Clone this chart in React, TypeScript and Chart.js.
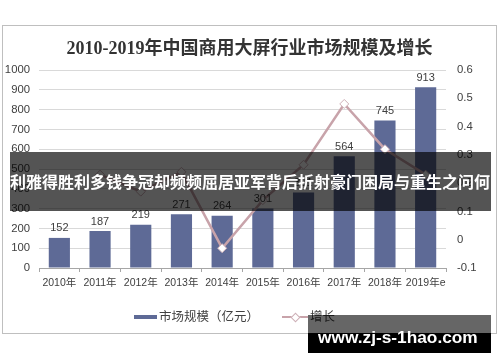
import React, { useEffect, useRef } from "react";
import { Chart, registerables } from "chart.js";

Chart.register(...registerables);

const categories = ["2010年", "2011年", "2012年", "2013年", "2014年", "2015年", "2016年", "2017年", "2018年", "2019年e"];
const marketSize = [152, 187, 219, 271, 264, 301, 381, 564, 745, 913];
const growth = [null, 0.23, 0.17, 0.24, -0.03, 0.14, 0.265, 0.48, 0.32, 0.23];
const leftTicks = { min: 0, max: 1000, step: 100 };
const rightTicks = { min: -0.1, max: 0.6, step: 0.1 };

const titleText = "2010-2019年中国商用大屏行业市场规模及增长";
const barLabel = "市场规模（亿元）";
const lineLabel = "增长";
const bannerText = "利雅得胜利多钱争冠却频频屈居亚军背后折射豪门困局与重生之问何";
const watermarkText = "www.zj-s-1hao.com";

const BAR_COLOR = "rgb(94,106,150)";
const LINE_COLOR = "rgb(200,163,170)";
const SANS = "'Liberation Sans', 'Noto Sans CJK SC', sans-serif";

const barLabelPlugin = {
  id: "barLabels",
  afterDatasetsDraw(chart: any) {
    const ctx = chart.ctx;
    const meta = chart.getDatasetMeta(0);
    ctx.save();
    ctx.font = `11px ${SANS}`;
    ctx.fillStyle = "#404040";
    ctx.textAlign = "center";
    ctx.textBaseline = "bottom";
    meta.data.forEach((el: any, i: number) => {
      ctx.fillText(String(marketSize[i]), el.x, el.y - 4);
    });
    ctx.restore();
  },
};

function ChartCanvas() {
  const ref = useRef<HTMLCanvasElement | null>(null);
  useEffect(() => {
    if (!ref.current) return;
    const chart = new Chart(ref.current, {
      type: "bar",
      data: {
        labels: categories,
        datasets: [
          {
            type: "bar",
            label: barLabel,
            data: marketSize,
            backgroundColor: BAR_COLOR,
            yAxisID: "y",
            order: 1,
            categoryPercentage: 1,
            barPercentage: 0.52,
          } as any,
          {
            type: "line",
            label: lineLabel,
            data: growth,
            yAxisID: "y1",
            order: 0,
            borderColor: LINE_COLOR,
            borderWidth: 2.5,
            pointStyle: "rectRot",
            pointRadius: 4.5,
            pointBackgroundColor: "#ffffff",
            pointBorderColor: "rgb(205,175,182)",
            pointBorderWidth: 1,
            spanGaps: false,
            tension: 0,
          } as any,
        ],
      },
      options: {
        animation: false,
        responsive: false,
        maintainAspectRatio: false,
        layout: { padding: { left: 0, right: 0, top: 70, bottom: 64 } },
        plugins: {
          legend: { display: false },
          title: { display: false },
          tooltip: { enabled: false },
        },
        scales: {
          x: {
            type: "category",
            offset: true,
            grid: {
              offset: true,
              drawOnChartArea: false,
              drawTicks: true,
              tickLength: 4,
              color: "#a6a6a6",
            },
            border: { display: true, color: "#a6a6a6" },
            ticks: {
              padding: 5,
              color: "#404040",
              font: { family: SANS, size: 10.5 },
              maxRotation: 0,
              autoSkip: false,
            },
            afterFit: (s: any) => {
              s.height = 30;
            },
          },
          y: {
            position: "left",
            min: leftTicks.min,
            max: leftTicks.max,
            ticks: {
              stepSize: leftTicks.step,
              padding: 9,
              color: "#404040",
              font: { family: SANS, size: 11.3 },
              callback: (v: any) => String(Math.round(Number(v))),
            },
            grid: { color: "#d9d9d9", drawTicks: false },
            border: { display: false },
            afterFit: (s: any) => {
              s.width = 39;
            },
          },
          y1: {
            position: "right",
            min: rightTicks.min,
            max: rightTicks.max,
            ticks: {
              stepSize: rightTicks.step,
              padding: 11,
              color: "#404040",
              font: { family: SANS, size: 11.3 },
              callback: (v: any) => {
                const n = Number(v);
                if (Math.abs(n) < 1e-9) return "0";
                return String(parseFloat(n.toFixed(1)));
              },
            },
            grid: { drawOnChartArea: false, drawTicks: false },
            border: { display: false },
            afterFit: (s: any) => {
              s.width = 54;
            },
          },
        },
      } as any,
      plugins: [barLabelPlugin],
    });
    return () => chart.destroy();
  }, []);
  return (
    <canvas
      ref={ref}
      width={500}
      height={362}
      style={{ position: "absolute", left: 0, top: 0, width: 500, height: 362 }}
    />
  );
}

export default function App() {
  return (
    <div
      style={{
        position: "absolute",
        left: 0,
        top: 0,
        width: 500,
        height: 362,
        overflow: "hidden",
        background: "#ffffff",
      }}
    >
      <div
        style={{
          position: "absolute",
          left: 2,
          top: 25,
          width: 495,
          height: 309,
          border: "1px solid #bfbfbf",
          boxSizing: "border-box",
        }}
      />
      <ChartCanvas />
      <div
        style={{
          position: "absolute",
          left: 2,
          width: 495,
          top: 36,
          height: 24,
          lineHeight: "24px",
          textAlign: "center",
          fontFamily: "'Liberation Serif', 'Noto Sans CJK SC', serif",
          fontWeight: "bold",
          fontSize: 18,
          color: "#333333",
          whiteSpace: "nowrap",
        }}
      >
        {titleText}
      </div>
      {/* legend */}
      <div style={{ position: "absolute", left: 134, top: 314.5, width: 23, height: 4, background: BAR_COLOR }} />
      <div
        style={{
          position: "absolute",
          left: 159,
          top: 307,
          height: 20,
          lineHeight: "20px",
          fontFamily: SANS,
          fontSize: 12.5,
          color: "#404040",
          whiteSpace: "nowrap",
        }}
      >
        {barLabel}
      </div>
      <div style={{ position: "absolute", left: 282, top: 315.5, width: 26, height: 2.5, background: LINE_COLOR }} />
      <div
        style={{
          position: "absolute",
          left: 292,
          top: 313.5,
          width: 5,
          height: 5,
          background: "#ffffff",
          border: "1px solid rgb(205,175,182)",
          transform: "rotate(45deg)",
        }}
      />
      <div
        style={{
          position: "absolute",
          left: 310,
          top: 307,
          height: 20,
          lineHeight: "20px",
          fontFamily: SANS,
          fontSize: 12.5,
          color: "#404040",
          whiteSpace: "nowrap",
        }}
      >
        {lineLabel}
      </div>
      {/* banner overlay */}
      <div
        style={{
          position: "absolute",
          left: 10,
          top: 152,
          width: 481,
          height: 59,
          background: "rgba(0,0,0,0.67)",
        }}
      />
      <div
        style={{
          position: "absolute",
          left: 10,
          top: 152,
          width: 481,
          height: 59,
          lineHeight: "59px",
          fontFamily: "'Noto Sans CJK SC', sans-serif",
          fontWeight: "bold",
          fontSize: 16,
          color: "#ffffff",
          whiteSpace: "nowrap",
        }}
      >
        {bannerText}
      </div>
      {/* watermark */}
      <div style={{ position: "absolute", left: 308, top: 315, width: 183, height: 18, background: "rgba(0,0,0,0.6)" }} />
      <div style={{ position: "absolute", left: 308, top: 333, width: 183, height: 20, background: "#000000" }} />
      <div
        style={{
          position: "absolute",
          left: 318,
          top: 326,
          height: 22,
          lineHeight: "22px",
          fontFamily: "'Liberation Sans', sans-serif",
          fontWeight: "bold",
          fontSize: 17.3,
          color: "#ffffff",
          whiteSpace: "nowrap",
        }}
      >
        {watermarkText}
      </div>
    </div>
  );
}
